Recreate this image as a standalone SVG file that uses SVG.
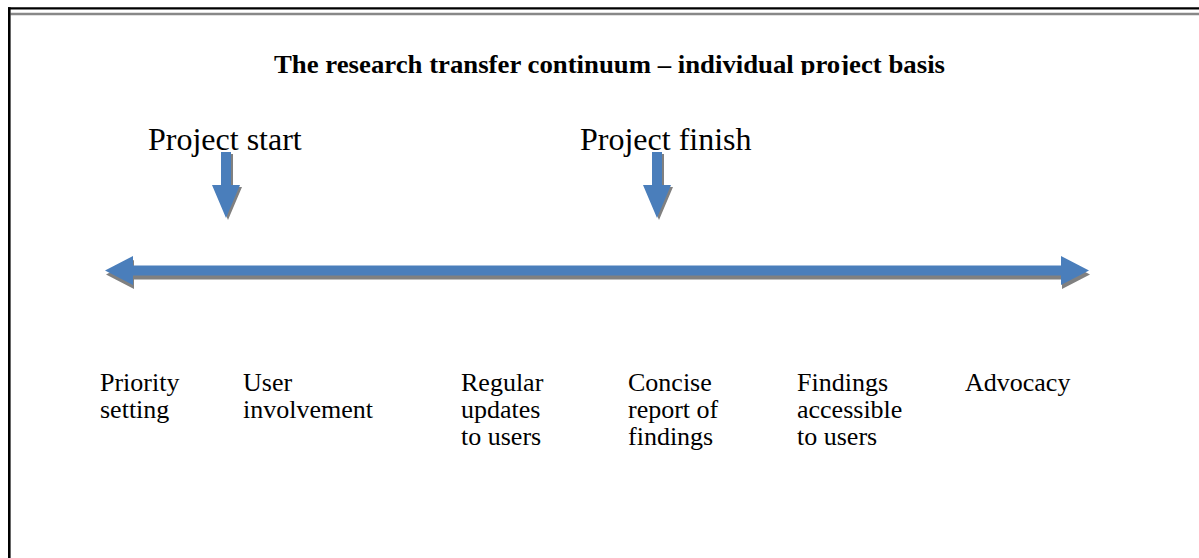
<svg xmlns="http://www.w3.org/2000/svg" width="1199" height="558" viewBox="0 0 1199 558">
<style>
.lbl{font-family:"Liberation Serif","Times New Roman",serif;font-size:26px;fill:#000}
.big{font-family:"Liberation Serif","Times New Roman",serif;font-size:32px;fill:#000}
.ttl{font-family:"Liberation Serif","Times New Roman",serif;font-size:26px;font-weight:bold;fill:#000}
.arr{fill:#4A7EBB}
.shd{fill:#808080}
</style>
<defs>
<clipPath id="titleClip"><rect x="0" y="0" width="1199" height="75"/></clipPath>
<path id="hArrow" d="M105,270.5 L133,256 L133,265.5 L1061,265.5 L1061,256 L1089,270.5 L1061,285 L1061,275.5 L133,275.5 L133,285 Z"/>
<path id="dArrow" d="M-5,0 L5,0 L5,33 L14,33 L0,66 L-14,33 L-5,33 Z"/>
</defs>
<rect width="1199" height="558" fill="#fff"/>
<g id="frame">
<line x1="8" y1="8.4" x2="1199" y2="8.4" stroke="#000" stroke-width="2.2"/>
<line x1="10.5" y1="14" x2="1199" y2="14" stroke="#888" stroke-width="2.6"/>
<line x1="9.3" y1="7.3" x2="9.3" y2="558" stroke="#000" stroke-width="2.6"/>
</g>
<g id="title" clip-path="url(#titleClip)">
<text class="ttl" x="274" y="73" textLength="671" lengthAdjust="spacingAndGlyphs">The research transfer continuum – individual project basis</text>
</g>
<g id="arrows">
<use href="#hArrow" class="shd" transform="translate(1,4)"/>
<use href="#hArrow" class="arr"/>
<g id="startArrow" transform="translate(226,152)">
<use href="#dArrow" class="shd" transform="translate(2,2)"/>
<use href="#dArrow" class="arr"/>
</g>
<g id="finishArrow" transform="translate(657,152)">
<use href="#dArrow" class="shd" transform="translate(2,2)"/>
<use href="#dArrow" class="arr"/>
</g>
</g>
<g id="project-start"><text class="big" x="148" y="150">Project start</text></g>
<g id="project-finish"><text class="big" x="580" y="150">Project finish</text></g>
<g id="priority-setting"><text class="lbl" x="100" y="391">Priority<tspan x="100" dy="27">setting</tspan></text></g>
<g id="user-involvement"><text class="lbl" x="243" y="391">User<tspan x="243" dy="27">involvement</tspan></text></g>
<g id="regular-updates"><text class="lbl" x="461" y="391">Regular<tspan x="461" dy="27">updates</tspan><tspan x="461" dy="27">to users</tspan></text></g>
<g id="concise-report"><text class="lbl" x="628" y="391">Concise<tspan x="628" dy="27">report of</tspan><tspan x="628" dy="27">findings</tspan></text></g>
<g id="findings-accessible"><text class="lbl" x="797" y="391">Findings<tspan x="797" dy="27">accessible</tspan><tspan x="797" dy="27">to users</tspan></text></g>
<g id="advocacy"><text class="lbl" x="965" y="391">Advocacy</text></g>
</svg>
